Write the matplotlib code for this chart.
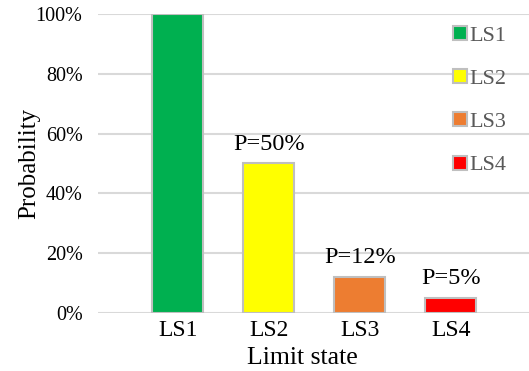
import matplotlib.pyplot as plt
from matplotlib.patches import Patch
from matplotlib.ticker import PercentFormatter

plt.rcParams['font.family'] = ['Liberation Serif', 'DejaVu Serif']

# Data
states = ['LS1', 'LS2', 'LS3', 'LS4']
probability = [100, 50, 12, 5]
labels = ['', 'P=50%', 'P=12%', 'P=5%']
colors = ['#00b050', '#ffff00', '#ed7d31', '#ff0000']

fig = plt.figure(figsize=(5.29, 3.71), dpi=100)
ax = fig.add_axes([0.185, 0.1563, 0.815, 0.806])

x = range(len(states))
ax.bar(x, probability, width=0.56, color=colors, edgecolor='#bfbfbf', linewidth=1.5, zorder=3)

# value labels above the smaller bars
for i, (p, lab) in enumerate(zip(probability, labels)):
    if lab:
        ax.annotate(lab, (i, p), xytext=(0, 10), textcoords='offset points',
                    ha='center', va='baseline', fontsize=17.5, color='black')

ax.set_xlim(-0.88, 3.86)
ax.set_ylim(0, 100)
ax.set_yticks(range(0, 101, 20))
ax.yaxis.set_major_formatter(PercentFormatter(decimals=0))
ax.set_xticks(list(x))
ax.set_xticklabels(states, fontsize=17)
ax.tick_params(axis='y', labelsize=14.5, length=0, pad=11)
ax.tick_params(axis='x', length=0, pad=5)
ax.grid(axis='y', color='#d9d9d9', linewidth=1.5, zorder=0)
for s in ax.spines.values():
    s.set_visible(False)

ax.set_xlabel('Limit state', fontsize=18.5)
ax.xaxis.set_label_coords((302 - 98) / 431, -0.112)
ax.set_ylabel('Probability', fontsize=18)
ax.yaxis.set_label_coords(-0.134, 0.5)

handles = [Patch(facecolor=c, edgecolor='#bfbfbf', linewidth=1.5) for c in colors]
leg = ax.legend(handles, states, loc='upper right', bbox_to_anchor=(0.995, 1.027),
                frameon=False, fontsize=16, labelspacing=1.05,
                handlelength=0.6, handleheight=0.6, handletextpad=0.15)
for t in leg.get_texts():
    t.set_color('#595959')

fig.savefig('out.png', dpi=100)
